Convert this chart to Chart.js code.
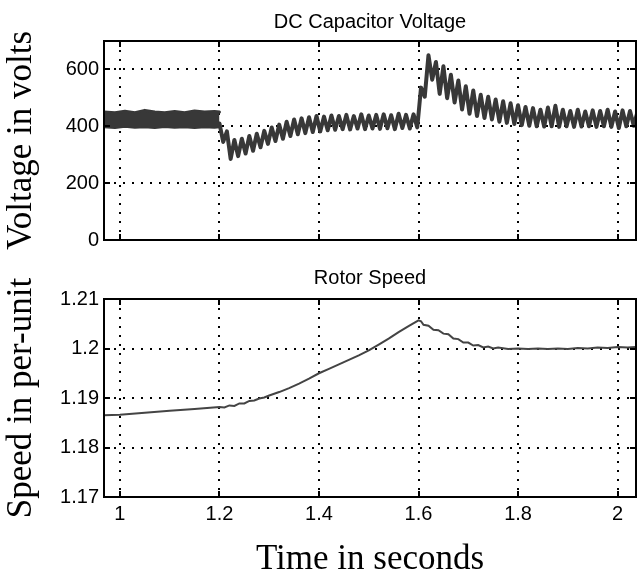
<!DOCTYPE html>
<html>
<head>
<meta charset="utf-8">
<script src="https://cdn.jsdelivr.net/npm/chart.js"></script>
<style>
    body { margin: 0; background: #fff; }
    canvas { display: block; }
</style>
</head>
<body>
<canvas id="volt-chart" width="641" height="260"></canvas>
<canvas id="speed-chart" width="641" height="319"></canvas>
<script>
    // steady-state band before the disturbance (upper / lower edge of the ripple)
    var bandTime = [0.968, 0.99, 1.01, 1.03, 1.05, 1.07, 1.09, 1.11, 1.13, 1.15, 1.17, 1.19, 1.2];
    var bandHigh = [450, 448, 453, 448, 456, 450, 448, 452, 448, 454, 450, 452, 450];
    var bandLow  = [398, 396, 400, 397, 398, 396, 399, 397, 398, 396, 398, 397, 398];

    // capacitor voltage after 1.2 s
    var rippleTime = [
        1.2, 1.2075, 1.215, 1.2225, 1.23, 1.2375, 1.245, 1.2525, 1.26, 1.2675,
        1.275, 1.2825, 1.29, 1.2975, 1.305, 1.3125, 1.32, 1.3275, 1.335, 1.3425,
        1.35, 1.3575, 1.365, 1.3725, 1.38, 1.3875, 1.395, 1.4025, 1.41, 1.4175,
        1.425, 1.4325, 1.44, 1.4475, 1.455, 1.4625, 1.47, 1.4775, 1.485, 1.4925,
        1.5, 1.5075, 1.515, 1.5225, 1.53, 1.5375, 1.545, 1.5525, 1.56, 1.5675,
        1.575, 1.5825, 1.59, 1.5975, 1.605, 1.6125, 1.62, 1.6275, 1.635, 1.6425,
        1.65, 1.6575, 1.665, 1.6725, 1.68, 1.6875, 1.695, 1.7025, 1.71, 1.7175,
        1.725, 1.7325, 1.74, 1.7475, 1.755, 1.7625, 1.77, 1.7775, 1.785, 1.7925,
        1.8, 1.8075, 1.815, 1.8225, 1.83, 1.8375, 1.845, 1.8525, 1.86, 1.8675,
        1.875, 1.8825, 1.89, 1.8975, 1.905, 1.9125, 1.92, 1.9275, 1.935, 1.9425,
        1.95, 1.9575, 1.965, 1.9725, 1.98, 1.9875, 1.995, 2.0025, 2.01, 2.0175,
        2.025, 2.0325, 2.04
    ];
    var rippleVolt = [
        410, 345, 382, 285, 352, 295, 356, 304, 366, 314,
        374, 326, 384, 338, 396, 348, 406, 356, 416, 366,
        424, 372, 428, 376, 432, 380, 436, 382, 434, 386,
        438, 388, 436, 390, 440, 389, 436, 392, 442, 390,
        438, 392, 440, 391, 442, 393, 439, 390, 444, 394,
        440, 392, 442, 396, 536, 504, 650, 564, 626, 514,
        611, 499, 581, 484, 561, 459, 541, 444, 526, 436,
        511, 429, 504, 424, 494, 416, 488, 412, 481, 408,
        474, 404, 468, 402, 464, 400, 458, 399, 466, 400,
        472, 398, 458, 400, 454, 398, 458, 399, 452, 400,
        456, 398, 454, 400, 458, 398, 452, 394, 456, 400,
        454, 402, 451
    ];

    // rotor speed, per-unit
    var speedTime = [
        0.968, 1.0, 1.05, 1.1, 1.15, 1.2, 1.21, 1.22, 1.23, 1.24,
        1.25, 1.26, 1.27, 1.28, 1.29, 1.3, 1.32, 1.34, 1.36, 1.38,
        1.4, 1.42, 1.44, 1.46, 1.48, 1.5, 1.52, 1.54, 1.56, 1.58,
        1.6, 1.605, 1.61, 1.62, 1.63, 1.64, 1.65, 1.66, 1.67, 1.68,
        1.69, 1.7, 1.71, 1.72, 1.73, 1.74, 1.75, 1.76, 1.78, 1.8,
        1.82, 1.84, 1.86, 1.88, 1.9, 1.92, 1.94, 1.96, 1.98, 2.0,
        2.02, 2.037
    ];
    var speedValue = [
        1.1865, 1.1866, 1.1870, 1.1874, 1.1878, 1.1882, 1.1881, 1.1885, 1.1884, 1.1889,
        1.1889, 1.1894, 1.1895, 1.1899, 1.1901, 1.1905, 1.1912, 1.1920, 1.1929, 1.1939,
        1.1950, 1.1959, 1.1968, 1.1977, 1.1986, 1.1996, 1.2008, 1.2020, 1.2033, 1.2045,
        1.2057, 1.2055, 1.2048, 1.2046, 1.2038, 1.2037, 1.2030, 1.2029, 1.2020, 1.2019,
        1.2012, 1.2012, 1.2006, 1.2007, 1.2002, 1.2004, 1.2000, 1.2002, 1.1999, 1.2000,
        1.1999, 1.2000, 1.1999, 1.2000, 1.1999, 1.2001, 1.2000, 1.2002, 1.2001, 1.2003,
        1.2002, 1.2003
    ];

    var timeTicks = [1, 1.2, 1.4, 1.6, 1.8, 2];
    var voltTicks = [0, 200, 400, 600];
    var speedTicks = [1.17, 1.18, 1.19, 1.2, 1.21];

    var traceColor = "#383838";
    var sansFont = "'Liberation Sans', Arial, sans-serif";
    var serifFont = "'Liberation Serif', 'Times New Roman', serif";

    function points(xs, ys) {
        return xs.map(function(x, i) { return { x: x, y: ys[i] }; });
    }

    function fixedTicks(values) {
        return function(scale) {
            scale.ticks = values.map(function(v) { return { value: v }; });
        };
    }

    function shortNumber(v) {
        return String(+Number(v).toFixed(2));
    }

    // box around the plot area plus small inward tick marks on all four sides
    var framePlugin = {
        id: "frame",
        afterDraw: function(chart) {
            var ctx = chart.ctx, a = chart.chartArea, sx = chart.scales.x, sy = chart.scales.y;
            ctx.save();
            ctx.strokeStyle = "#000";
            ctx.lineWidth = 2;
            ctx.strokeRect(a.left, a.top, a.right - a.left, a.bottom - a.top);
            ctx.beginPath();
            sx.ticks.forEach(function(t) {
                var px = Math.round(sx.getPixelForValue(t.value));
                ctx.moveTo(px, a.bottom); ctx.lineTo(px, a.bottom - 6);
                ctx.moveTo(px, a.top); ctx.lineTo(px, a.top + 6);
            });
            sy.ticks.forEach(function(t) {
                var py = Math.round(sy.getPixelForValue(t.value));
                ctx.moveTo(a.left, py); ctx.lineTo(a.left + 6, py);
                ctx.moveTo(a.right, py); ctx.lineTo(a.right - 6, py);
            });
            ctx.stroke();
            ctx.restore();
        }
    };

    function gridOpts() {
        return { color: "#000", lineWidth: 2, drawTicks: false };
    }

    var dottedBorder = { display: true, color: "#000", width: 2, dash: [2, 7] };

    new Chart(document.getElementById("volt-chart").getContext("2d"), {
        type: "line",
        data: {
            datasets: [
                {
                    data: points(bandTime, bandHigh),
                    borderColor: traceColor,
                    backgroundColor: traceColor,
                    borderWidth: 3,
                    fill: "+1"
                },
                {
                    data: points(bandTime, bandLow),
                    borderColor: traceColor,
                    borderWidth: 3,
                    fill: false
                },
                {
                    data: points(rippleTime, rippleVolt),
                    borderColor: traceColor,
                    borderWidth: 4,
                    fill: false
                }
            ]
        },
        options: {
            responsive: false,
            animation: false,
            events: [],
            elements: { point: { radius: 0 }, line: { tension: 0, borderJoinStyle: "round", borderCapStyle: "round" } },
            layout: { padding: { left: 0, right: 5, top: 0, bottom: 0 } },
            plugins: {
                legend: { display: false },
                tooltip: { enabled: false },
                title: {
                    display: true,
                    fullSize: false,
                    text: "DC Capacitor Voltage",
                    color: "#000",
                    font: { family: sansFont, size: 20, weight: "normal", lineHeight: 1.2 },
                    padding: { top: 10, bottom: 7 }
                }
            },
            scales: {
                x: {
                    type: "linear",
                    min: 0.968,
                    max: 2.037,
                    afterBuildTicks: fixedTicks(timeTicks),
                    afterFit: function(scale) { scale.height = 20; },
                    ticks: { display: false },
                    grid: gridOpts(),
                    border: dottedBorder
                },
                y: {
                    min: 0,
                    max: 700,
                    afterBuildTicks: fixedTicks(voltTicks),
                    afterFit: function(scale) { scale.width = 104; },
                    ticks: {
                        color: "#000",
                        padding: 5,
                        font: { family: sansFont, size: 20 },
                        callback: shortNumber
                    },
                    grid: gridOpts(),
                    border: dottedBorder,
                    title: {
                        display: true,
                        text: "Voltage in volts",
                        color: "#000",
                        font: { family: serifFont, size: 35, lineHeight: 1 },
                        padding: { top: 4, bottom: 0 }
                    }
                }
            }
        },
        plugins: [framePlugin]
    });

    new Chart(document.getElementById("speed-chart").getContext("2d"), {
        type: "line",
        data: {
            datasets: [
                {
                    data: points(speedTime, speedValue),
                    borderColor: "#444",
                    borderWidth: 2,
                    fill: false
                }
            ]
        },
        options: {
            responsive: false,
            animation: false,
            events: [],
            elements: { point: { radius: 0 }, line: { tension: 0 } },
            layout: { padding: { left: 0, right: 5, top: 0, bottom: 0 } },
            plugins: {
                legend: { display: false },
                tooltip: { enabled: false },
                title: {
                    display: true,
                    fullSize: false,
                    text: "Rotor Speed",
                    color: "#000",
                    font: { family: sansFont, size: 20, weight: "normal", lineHeight: 1.2 },
                    padding: { top: 6, bottom: 9 }
                }
            },
            scales: {
                x: {
                    type: "linear",
                    min: 0.968,
                    max: 2.037,
                    afterBuildTicks: fixedTicks(timeTicks),
                    afterFit: function(scale) { scale.height = 82; },
                    ticks: {
                        color: "#000",
                        padding: 5,
                        maxRotation: 0,
                        font: { family: sansFont, size: 20 },
                        callback: shortNumber
                    },
                    grid: gridOpts(),
                    border: dottedBorder,
                    title: {
                        display: true,
                        text: "Time in seconds",
                        color: "#000",
                        font: { family: serifFont, size: 35, lineHeight: 1 },
                        padding: { top: 0, bottom: 2 }
                    }
                },
                y: {
                    min: 1.17,
                    max: 1.21,
                    afterBuildTicks: fixedTicks(speedTicks),
                    afterFit: function(scale) { scale.width = 104; },
                    ticks: {
                        color: "#000",
                        padding: 5,
                        font: { family: sansFont, size: 20 },
                        callback: shortNumber
                    },
                    grid: gridOpts(),
                    border: dottedBorder,
                    title: {
                        display: true,
                        text: "Speed in per-unit",
                        color: "#000",
                        font: { family: serifFont, size: 35, lineHeight: 1 },
                        padding: { top: 4, bottom: 0 }
                    }
                }
            }
        },
        plugins: [framePlugin]
    });
</script>
</body>
</html>
